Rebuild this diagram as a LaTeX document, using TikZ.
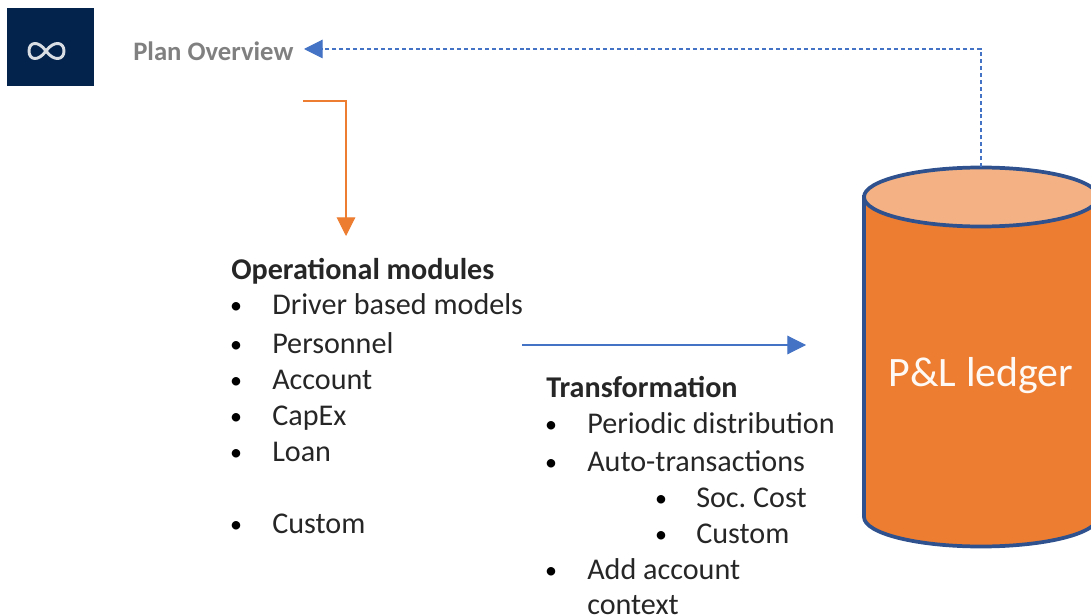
\documentclass[tikz,border=0pt]{standalone}
\usepackage{fontspec}
\setmainfont{Carlito}
\usepackage[dvipsnames]{xcolor}
\usetikzlibrary{arrows.meta}

\definecolor{IconNavy}{HTML}{03224C}
\definecolor{LedgerOrange}{HTML}{ED7D31}
\definecolor{LedgerTop}{HTML}{F4B183}
\definecolor{LedgerEdge}{HTML}{2F528F}
\definecolor{FlowBlue}{HTML}{4472C4}

\begin{document}
\begin{tikzpicture}[x=0.75pt, y=-0.75pt]
      \tikzstyle listtext=[anchor=base west, inner sep=0pt, font=\fontsize{22.6}{24}\selectfont\frenchspacing, text=black!85];
      \tikzstyle listhead=[listtext, font=\fontsize{22.6}{24}\selectfont\bfseries];
      \tikzstyle listdot=[anchor=base, inner sep=0pt, yshift=0.75pt, font=\fontsize{18}{20}\selectfont, text=black];
      \tikzstyle flow=[color=FlowBlue, thick, -{Triangle[length=14pt, width=14pt]}];

      \useasboundingbox (0, 0) rectangle (1091, 616);

      %icon and page title
      \node[fill=IconNavy, minimum width=65.25pt, minimum height=58.5pt, inner sep=0pt] (icon) at (50.5, 47) {};
      \draw[white!85!IconNavy, line width=2.2pt] (46, 51) .. controls (38, 40) and (29, 42) .. (29, 51)
         .. controls (29, 60) and (38, 62) .. (46, 51) .. controls (54, 40) and (64, 42) .. (64, 51)
         .. controls (64, 60) and (54, 62) .. (46, 51) -- cycle;
      \node[anchor=base west, inner sep=0pt, font=\fontsize{20}{22}\selectfont\bfseries, text=black!50] (plan) at (133, 61) {Plan Overview};

      %the ledger
      \filldraw[fill=LedgerOrange, draw=LedgerEdge, line width=2.8pt] (864, 197) -- (864, 517)
         arc (180:0:117 and 29.5) -- (1098, 197) -- cycle;
      \filldraw[fill=LedgerTop, draw=LedgerEdge, line width=2.8pt] (981, 197) ellipse (117 and 29.5);
      \coordinate (ledgertop) at (981, 167);
      \node[inner sep=0pt, font=\fontsize{31.4}{34}\selectfont, text=white!95!LedgerOrange] (ledger) at (981, 376) {P\&L ledger};

      %operational modules
      \node[listhead] (opshead) at (231, 280) {Operational modules};
      \foreach \name/\ypos/\txt in {driver/315/Driver based models, personnel/353/Personnel, account/389/Account,
            capex/425/CapEx, loan/461/Loan, opscustom/533/Custom} {
         \node[listdot] (\name dot) at (236, \ypos) {•};
         \node[listtext] (\name) at (272, \ypos) {\txt};
      }

      %transformation
      \node[listhead] (transhead) at (546, 397) {Transformation};
      \foreach \name/\ypos/\txt in {periodic/433/Periodic distribution, auto/471/Auto-transactions, addaccount/579/Add account} {
         \node[listdot] (\name dot) at (551, \ypos) {•};
         \node[listtext] (\name) at (587, \ypos) {\txt};
      }
      \node[listtext] (context) at (587, 614) {context};
      \foreach \name/\ypos/\txt in {soccost/507/Soc. Cost, transcustom/543/Custom} {
         \node[listdot] (\name dot) at (661, \ypos) {•};
         \node[listtext] (\name) at (696, \ypos) {\txt};
      }

      %connectors
      \coordinate (orangestart) at (303, 101);
      \coordinate (orangeend) at (346, 236);
      \coordinate (opsout) at (522, 345);
      \coordinate (ledgerin) at (806, 345);
      \coordinate (planin) at (304, 49);
      \draw[color=LedgerOrange, thick, -{Triangle[length=14pt, width=14pt]}] (orangestart) -| (orangeend);
      \draw[style=flow] (opsout) -- (ledgerin);
      \draw[style=flow, dash pattern=on 3pt off 2.2pt] (ledgertop) |- (planin);
   \end{tikzpicture}
\end{document}
